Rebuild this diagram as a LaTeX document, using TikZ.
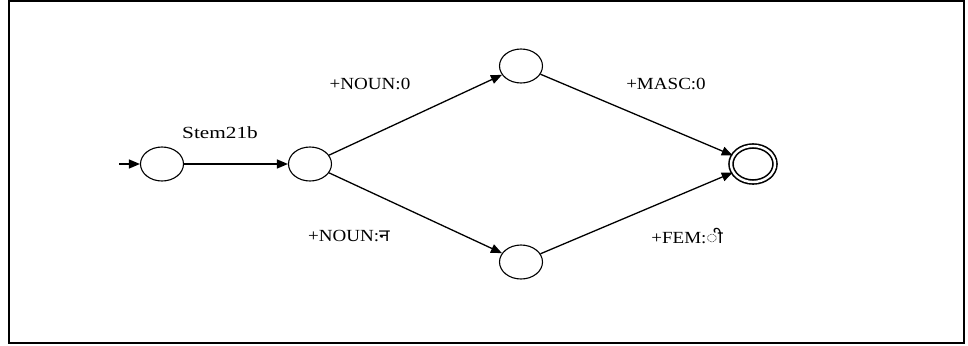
\documentclass[tikz,border=0pt]{standalone}
\usepackage{fontspec}
\usepackage{graphicx}
\setmainfont{Liberation Serif}
\newfontfamily\deva[Script=Devanagari]{Noto Sans}
\usetikzlibrary{shapes.geometric,arrows.meta}
\begin{document}
\begin{tikzpicture}[x=1pt,y=-1pt,
  state/.style={ellipse,draw,line width=1.1pt,minimum width=43pt,minimum height=34pt,inner sep=0pt},
  accept/.style={state,double,double distance=2.4pt,line width=1.6pt,minimum width=44pt,minimum height=36pt},
  trans/.style={line width=1.3pt,-{Triangle[length=11pt,width=9pt]}},
  lbl/.style={font=\fontsize{17}{19}\selectfont,inner sep=0pt}]
  \useasboundingbox (0,0) rectangle (968,345);
  \draw[line width=2pt] (9,1) rectangle (964,343);
  % states
  \node[state] (q0) at (162,164) {};
  \node[state] (q1) at (310,164) {};
  \node[state] (q2) at (521,66) {};
  \node[state] (q3) at (521,262) {};
  \node[accept] (q4) at (753,164) {};
  \coordinate (start) at (119,164);
  % transitions
  \draw[trans] (start) -- (q0);
  \draw[trans] (q0) -- (q1);
  \draw[trans] (q1) -- (q2);
  \draw[trans] (q1) -- (q3);
  \draw[trans] (q2) -- (q4);
  \draw[trans] (q3) -- (q4);
  % labels
  \node[lbl] (l01) at (220,133) {\scalebox{1.25}[1]{Stem21b}};
  \node[lbl] (l12) at (370,84) {\scalebox{1.12}[1]{+NOUN:0}};
  \node[lbl] (l24) at (666,84) {\scalebox{1.12}[1]{+MASC:0}};
  \node[lbl] (l13) at (349,236) {\scalebox{1.12}[1]{+NOUN:{\deva न}}};
  \node[lbl] (l34) at (687,236) {\scalebox{1.12}[1]{+FEM:{\deva ी}}};
\end{tikzpicture}
\end{document}
